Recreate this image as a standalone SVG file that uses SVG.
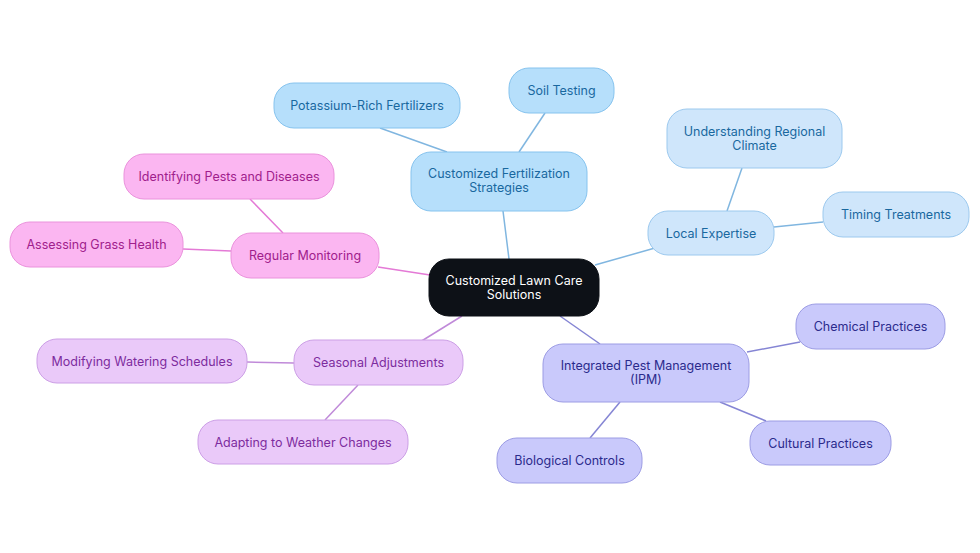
<svg xmlns="http://www.w3.org/2000/svg" width="980" height="553" viewBox="0 0 980 553">
<style>
text{font-family:Inter,"Noto Sans","Liberation Sans",sans-serif;font-size:12.5px;text-anchor:middle;dominant-baseline:central}
.c rect{fill:#0d1117;stroke:#0d1117}
.c text{fill:#ffffff}
.b rect{fill:#b6dffb;stroke:#86c3ee;stroke-width:1}
.b text{fill:#19689f}
.lb rect{fill:#cfe6fb;stroke:#9cc9ee;stroke-width:1}
.lb text{fill:#19689f}
.p rect{fill:#fbb6f1;stroke:#ea92dc;stroke-width:1}
.p text{fill:#a0208c}
.v rect{fill:#eac9f9;stroke:#cc9fe6;stroke-width:1}
.v text{fill:#7d2c9e}
.i rect{fill:#c9c9fb;stroke:#9c9ce4;stroke-width:1}
.i text{fill:#2b2b8c}
#edges line{stroke-width:1.5;fill:none}
.eb{stroke:#80b6e0}
.ep{stroke:#e47ad6}
.ev{stroke:#c08ad9}
.ei{stroke:#8585d4}
</style>
<rect width="980" height="553" fill="#ffffff"/>
<g id="edges">
<line class="eb" x1="509" y1="259" x2="503" y2="211"/>
<line class="eb" x1="519" y1="152" x2="545" y2="113"/>
<line class="eb" x1="447" y1="152" x2="380" y2="128"/>
<line class="eb" x1="595" y1="265" x2="655" y2="248"/>
<line class="eb" x1="727" y1="211" x2="742" y2="168"/>
<line class="eb" x1="774" y1="227" x2="823" y2="222"/>
<line class="ei" x1="560" y1="316" x2="600" y2="344"/>
<line class="ei" x1="747" y1="352" x2="800" y2="342"/>
<line class="ei" x1="720" y1="402" x2="766" y2="421"/>
<line class="ei" x1="620" y1="402" x2="590" y2="438"/>
<line class="ev" x1="462" y1="316" x2="420" y2="342"/>
<line class="ev" x1="294" y1="363" x2="247" y2="362"/>
<line class="ev" x1="358" y1="385" x2="325" y2="420"/>
<line class="ep" x1="430" y1="275" x2="378" y2="267"/>
<line class="ep" x1="283" y1="233" x2="250" y2="199"/>
<line class="ep" x1="231" y1="251" x2="183" y2="249"/>
</g>
<g id="center" class="c"><rect x="429" y="259" width="170" height="57" rx="20"/><text x="514" y="280">Customized Lawn Care</text><text x="514" y="294">Solutions</text></g>
<g id="fert" class="b"><rect x="411" y="152" width="176" height="59" rx="20"/><text x="499" y="173">Customized Fertilization</text><text x="499" y="187">Strategies</text></g>
<g id="soil" class="b"><rect x="509" y="68" width="105" height="45" rx="20"/><text x="561.5" y="90">Soil Testing</text></g>
<g id="potassium" class="b"><rect x="274" y="83" width="186" height="45" rx="20"/><text x="367" y="105">Potassium-Rich Fertilizers</text></g>
<g id="local" class="lb"><rect x="648" y="211" width="126" height="44" rx="20"/><text x="711" y="233">Local Expertise</text></g>
<g id="climate" class="lb"><rect x="667" y="109" width="175" height="59" rx="20"/><text x="754.5" y="131">Understanding Regional</text><text x="754.5" y="145">Climate</text></g>
<g id="timing" class="lb"><rect x="823" y="192" width="146" height="45" rx="20"/><text x="896" y="214">Timing Treatments</text></g>
<g id="ipm" class="i"><rect x="543" y="344" width="206" height="58" rx="20"/><text x="646" y="365">Integrated Pest Management</text><text x="646" y="379">(IPM)</text></g>
<g id="chemical" class="i"><rect x="796" y="304" width="149" height="45" rx="20"/><text x="870.5" y="326">Chemical Practices</text></g>
<g id="cultural" class="i"><rect x="750" y="421" width="141" height="44" rx="20"/><text x="820.5" y="443">Cultural Practices</text></g>
<g id="biological" class="i"><rect x="497" y="438" width="145" height="45" rx="20"/><text x="569.5" y="460">Biological Controls</text></g>
<g id="seasonal" class="v"><rect x="294" y="340" width="169" height="45" rx="20"/><text x="378.5" y="362">Seasonal Adjustments</text></g>
<g id="watering" class="v"><rect x="37" y="339" width="210" height="44" rx="20"/><text x="142" y="361">Modifying Watering Schedules</text></g>
<g id="weather" class="v"><rect x="198" y="420" width="210" height="44" rx="20"/><text x="303" y="442">Adapting to Weather Changes</text></g>
<g id="monitoring" class="p"><rect x="231" y="233" width="148" height="45" rx="20"/><text x="305" y="255">Regular Monitoring</text></g>
<g id="pests" class="p"><rect x="124" y="154" width="210" height="45" rx="20"/><text x="229" y="176">Identifying Pests and Diseases</text></g>
<g id="grass" class="p"><rect x="10" y="222" width="173" height="45" rx="20"/><text x="96.5" y="244">Assessing Grass Health</text></g>
</svg>
